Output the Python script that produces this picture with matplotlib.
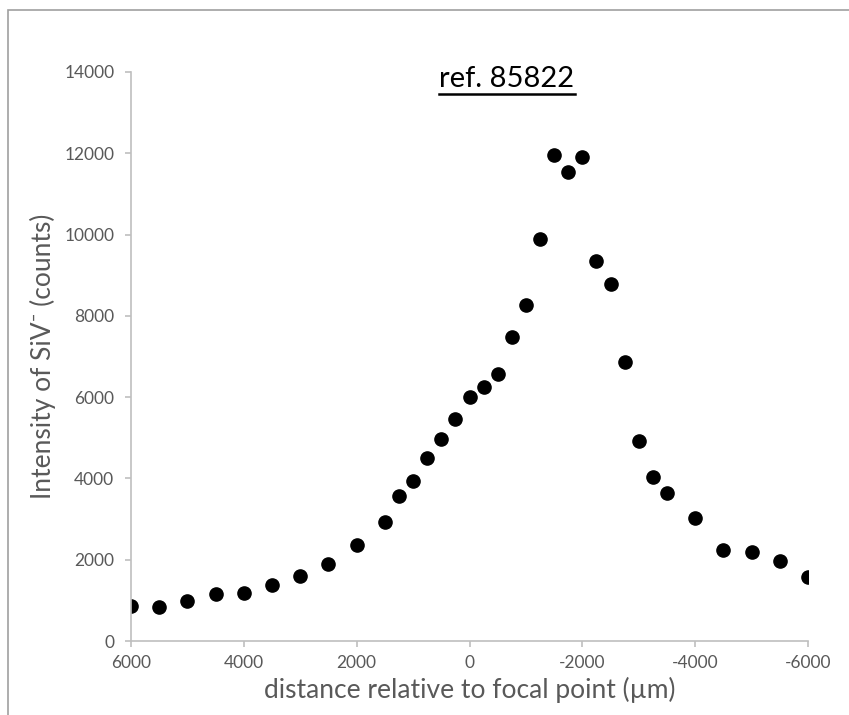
import matplotlib.pyplot as plt
from matplotlib.patches import Rectangle
from matplotlib.lines import Line2D

# distance relative to focal point (um) and measured SiV- counts
distance = [6000, 5500, 5000, 4500, 4000, 3500, 3000, 2500, 2000, 1500,
            1250, 1000, 750, 500, 250, 0, -250, -500, -750, -1000,
            -1250, -1500, -1750, -2000, -2250, -2500, -2750, -3000, -3250, -3500,
            -4000, -4500, -5000, -5500, -6000]
counts = [850, 830, 990, 1150, 1170, 1370, 1600, 1900, 2350, 2920,
          3560, 3930, 4510, 4960, 5450, 6000, 6240, 6570, 7490, 8260,
          9880, 11950, 11550, 11920, 9340, 8780, 6860, 4910, 4040, 3650,
          3020, 2250, 2180, 1980, 1570]

x_ticks = [6000, 4000, 2000, 0, -2000, -4000, -6000]
y_ticks = [0, 2000, 4000, 6000, 8000, 10000, 12000, 14000]

plt.rcParams['font.family'] = ['Lato', 'DejaVu Sans']
plt.rcParams['axes.unicode_minus'] = False
axis_gray = '#bfbfbf'
text_gray = '#595959'

fig = plt.figure(figsize=(8.49, 7.15), dpi=100)
ax = fig.add_axes([131/849, 1 - 641/715, 677/849, 569/715])

ax.plot(distance, counts, 'o', color='black', markersize=9.5, linestyle='none')

ax.set_xlim(6000, -6000)
ax.set_ylim(0, 14000)
ax.set_xticks(x_ticks)
ax.set_yticks(y_ticks)
ax.set_xticklabels([str(t) for t in x_ticks])
ax.set_yticklabels([str(t) for t in y_ticks])

for side in ['top', 'right']:
    ax.spines[side].set_visible(False)
for side in ['left', 'bottom']:
    ax.spines[side].set_color(axis_gray)
    ax.spines[side].set_linewidth(1.2)
ax.tick_params(colors=axis_gray, labelcolor=text_gray, labelsize=12.5, length=4, width=1.2)
ax.tick_params(axis='x', pad=6)
ax.tick_params(axis='y', pad=8)

ax.set_xlabel('distance relative to focal point (µm)', fontsize=19, color=text_gray, labelpad=4)
ax.set_ylabel('Intensity of SiV⁻ (counts)', fontsize=19, color=text_gray, labelpad=6)

title = fig.text(507/849, 1 - 87/715, 'ref. 85822', fontsize=21, color='black',
                 ha='center', va='baseline')
fig.canvas.draw()
bb = title.get_window_extent().transformed(fig.transFigure.inverted())
uy = 1 - 94/715
fig.add_artist(Line2D([bb.x0, bb.x1], [uy, uy], color='black', linewidth=1.8,
                      transform=fig.transFigure))

# outer chart frame
fig.add_artist(Rectangle((8/849, -0.01), 1.0, 1 - 10/715 + 0.01, fill=False,
                         edgecolor='#a0a0a0', linewidth=1.2, transform=fig.transFigure))

fig.savefig('out.png', dpi=100)
